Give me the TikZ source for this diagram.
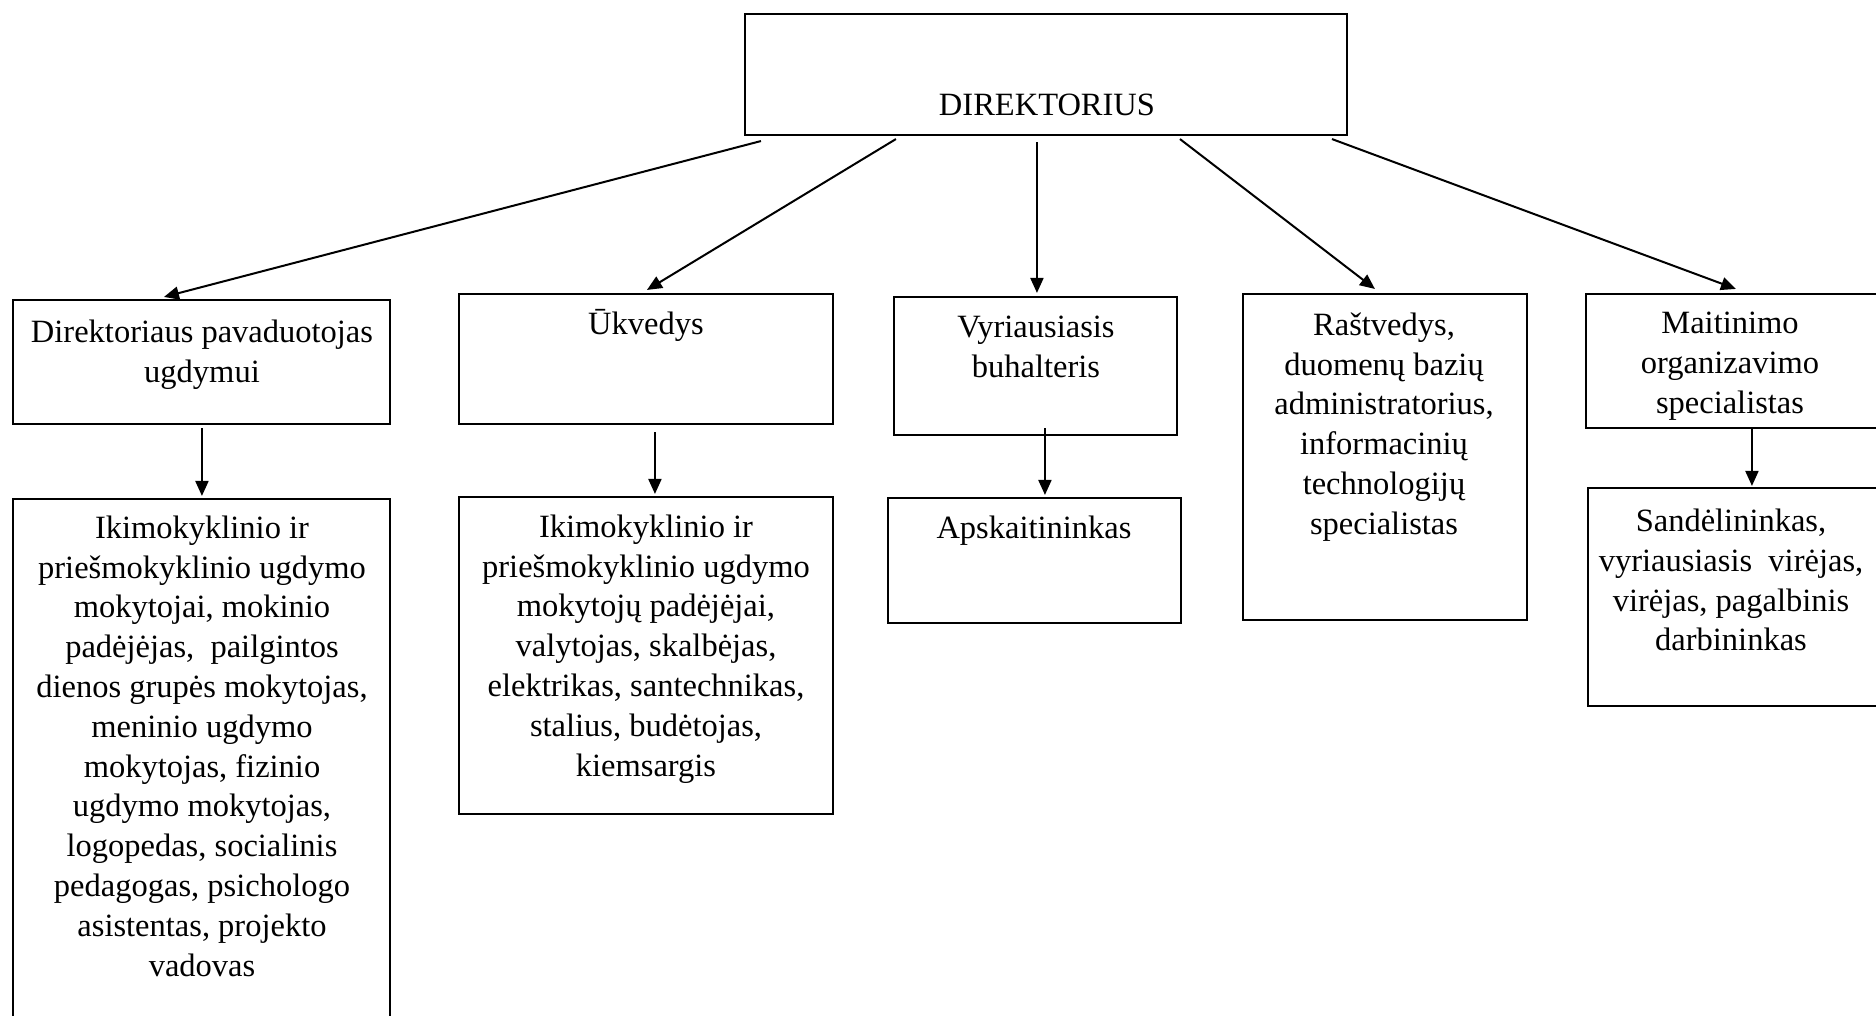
\documentclass[tikz,border=0pt]{standalone}
\usepackage{fontspec}
\setmainfont{Liberation Serif}
\usetikzlibrary{arrows.meta,fit}
\begin{document}
\begin{tikzpicture}[x=0.5pt,y=-0.5pt,
  box/.style={draw, line width=1.05pt, inner sep=0pt, rectangle},
  lbl/.style={inner sep=0pt, align=center, font=\fontsize{16.25}{19.9}\selectfont},
  arr/.style={line width=1pt, -{Triangle[length=7.5pt,width=6.5pt]}}]
\useasboundingbox (0,0) rectangle (1876,1016);
\clip (0,0) rectangle (1876,1016);
\fill[white] (0,0) rectangle (1876,1016);
% boxes
\node[box, fit={(745,14) (1347,135)}] (dir) {};
\node[box, fit={(13,300) (390,424)}] (b1) {};
\node[box, fit={(13,499) (390,1040)}] (b1b) {};
\node[box, fit={(459,294) (833,424)}] (ukv) {};
\node[box, fit={(459,497) (833,814)}] (ukv2) {};
\node[box, fit={(894,297) (1177,435)}] (vyr) {};
\node[box, fit={(888,498) (1181,623)}] (aps) {};
\node[box, fit={(1243,294) (1527,620)}] (ras) {};
\node[box, fit={(1586,294) (1900,428)}] (mai) {};
\node[box, fit={(1588,488) (1900,706)}] (san) {};
% texts
\node[lbl] (tdir) at (1047,105) {DIREKTORIUS};
\node[lbl] (tb1) at (202,355) {Direktoriaus pavaduotojas\\ugdymui};
\node[lbl] (tb1b) at (202,746) {Ikimokyklinio ir\\priešmokyklinio ugdymo\\mokytojai, mokinio\\padėjėjas,\ \ pailgintos\\dienos grupės mokytojas,\\meninio ugdymo\\mokytojas, fizinio\\ugdymo mokytojas,\\logopedas, socialinis\\pedagogas, psichologo\\asistentas, projekto\\vadovas};
\node[lbl] (tukv) at (646,325) {Ūkvedys};
\node[lbl] (tukv2) at (646,649) {Ikimokyklinio ir\\priešmokyklinio ugdymo\\mokytojų padėjėjai,\\valytojas, skalbėjas,\\elektrikas, santechnikas,\\stalius, budėtojas,\\kiemsargis};
\node[lbl] (tvyr) at (1036,347) {Vyriausiasis\\buhalteris};
\node[lbl] (taps) at (1034,531) {Apskaitininkas};
\node[lbl] (tras) at (1384,427) {Raštvedys,\\duomenų bazių\\administratorius,\\informacinių\\technologijų\\specialistas};
\node[lbl] (tmai) at (1730,366) {Maitinimo\\organizavimo\\specialistas};
\node[lbl] (tsan) at (1731,580) {Sandėlininkas,\\vyriausiasis\ \ virėjas,\\virėjas, pagalbinis\\darbininkas};
% arrows from director
\draw[arr] ([shift={(17,5)}]dir.south west) -- ([shift={(152,-2)}]b1.north west);
\draw[arr] ([shift={(152,3)}]dir.south west) -- ([shift={(189,-3)}]ukv.north west);
\draw[arr] ([shift={(293,6)}]dir.south west) -- ([shift={(144,-3)}]vyr.north west);
\draw[arr] ([shift={(436,3)}]dir.south west) -- ([shift={(133,-4)}]ras.north west);
\draw[arr] ([shift={(588,3)}]dir.south west) -- ([shift={(151,-4)}]mai.north west);
% downward arrows
\draw[arr] ([shift={(190,3)}]b1.south west) -- ([shift={(190,-2)}]b1b.north west);
\draw[arr] ([shift={(197,7)}]ukv.south west) -- ([shift={(197,-2)}]ukv2.north west);
\draw[arr] ([shift={(152,-8)}]vyr.south west) -- ([shift={(158,-2)}]aps.north west);
\draw[arr] ([shift={(167,-1)}]mai.south west) -- ([shift={(165,-1)}]san.north west);
\end{tikzpicture}
\end{document}
